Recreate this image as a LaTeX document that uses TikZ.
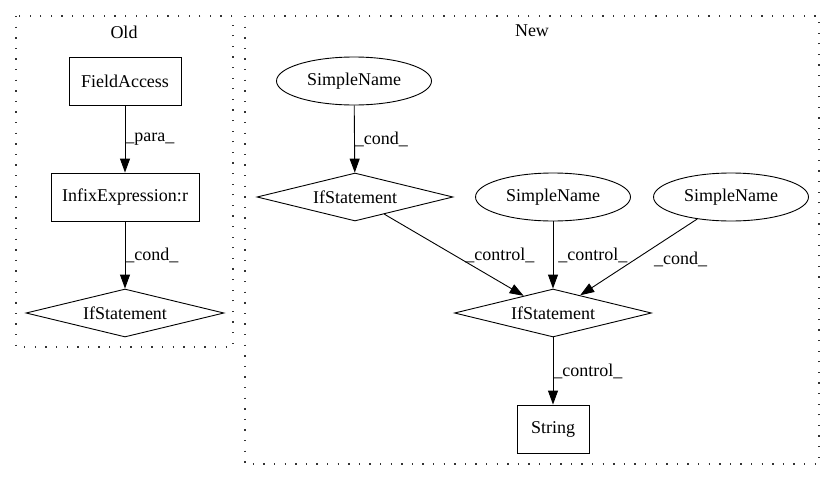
\documentclass[tikz,border=0pt]{standalone}
\usepackage{fontspec}
\setmainfont{Liberation Serif}
\usetikzlibrary{shapes.geometric,arrows.meta}

\begin{document}
\begin{tikzpicture}
  [x=1pt, y=-1pt,
   font=\fontsize{18}{21}\selectfont,
   rectbox/.style={draw, line width=0.9pt, minimum height=48pt, inner sep=0pt},
   ifcond/.style={draw, diamond, aspect=4, line width=0.9pt, minimum height=48pt, inner sep=0pt},
   sname/.style={draw, ellipse, line width=0.9pt, minimum width=155pt, minimum height=48pt, inner sep=0pt},
   flow/.style={line width=0.9pt, -{Triangle[length=14pt,width=10pt]}},
   lbl/.style={inner sep=0pt, anchor=west},
   cluster/.style={line width=1.3pt, black!80, dash pattern=on 1.3pt off 9.3pt}]
\useasboundingbox (0,0) rectangle (836,480);

% clusters
\draw[cluster] (16,16) rectangle (233,347);
\draw[cluster] (245,16) rectangle (819,464);
\node (oldtitle) at (124,32) {Old};
\node (newtitle) at (532,31) {New};

% old
\node[rectbox, minimum width=112pt] (fieldaccess) at (125,81) {FieldAccess};
\node[rectbox, minimum width=148pt] (infix) at (125,197) {InfixExpression:r};
\node[ifcond, minimum width=198pt] (ifold) at (125,313) {IfStatement};

\draw[flow] (fieldaccess) -- node[lbl] {\_para\_} (infix);
\draw[flow] (infix) -- node[lbl] {\_cond\_} (ifold);

% new
\node[sname] (name1) at (354,81) {SimpleName};
\node[ifcond, minimum width=196pt] (if1) at (355,197) {IfStatement};
\node[sname] (name2) at (553,197) {SimpleName};
\node[sname] (name3) at (731,197) {SimpleName};
\node[ifcond, minimum width=197pt] (if2) at (553,313) {IfStatement};
\node[rectbox, minimum width=72pt] (string) at (553,429) {String};

\draw[flow] (name1) -- node[lbl] {\_cond\_} (if1);
\draw[flow] (if1) -- node[lbl, xshift=11pt] {\_control\_} (if2);
\draw[flow] (name2) -- node[lbl, xshift=5pt] {\_control\_} (if2);
\draw[flow] (name3) -- node[lbl, xshift=15pt, yshift=-2pt] {\_cond\_} (if2);
\draw[flow] (if2) -- node[lbl] {\_control\_} (string);
\end{tikzpicture}
\end{document}
